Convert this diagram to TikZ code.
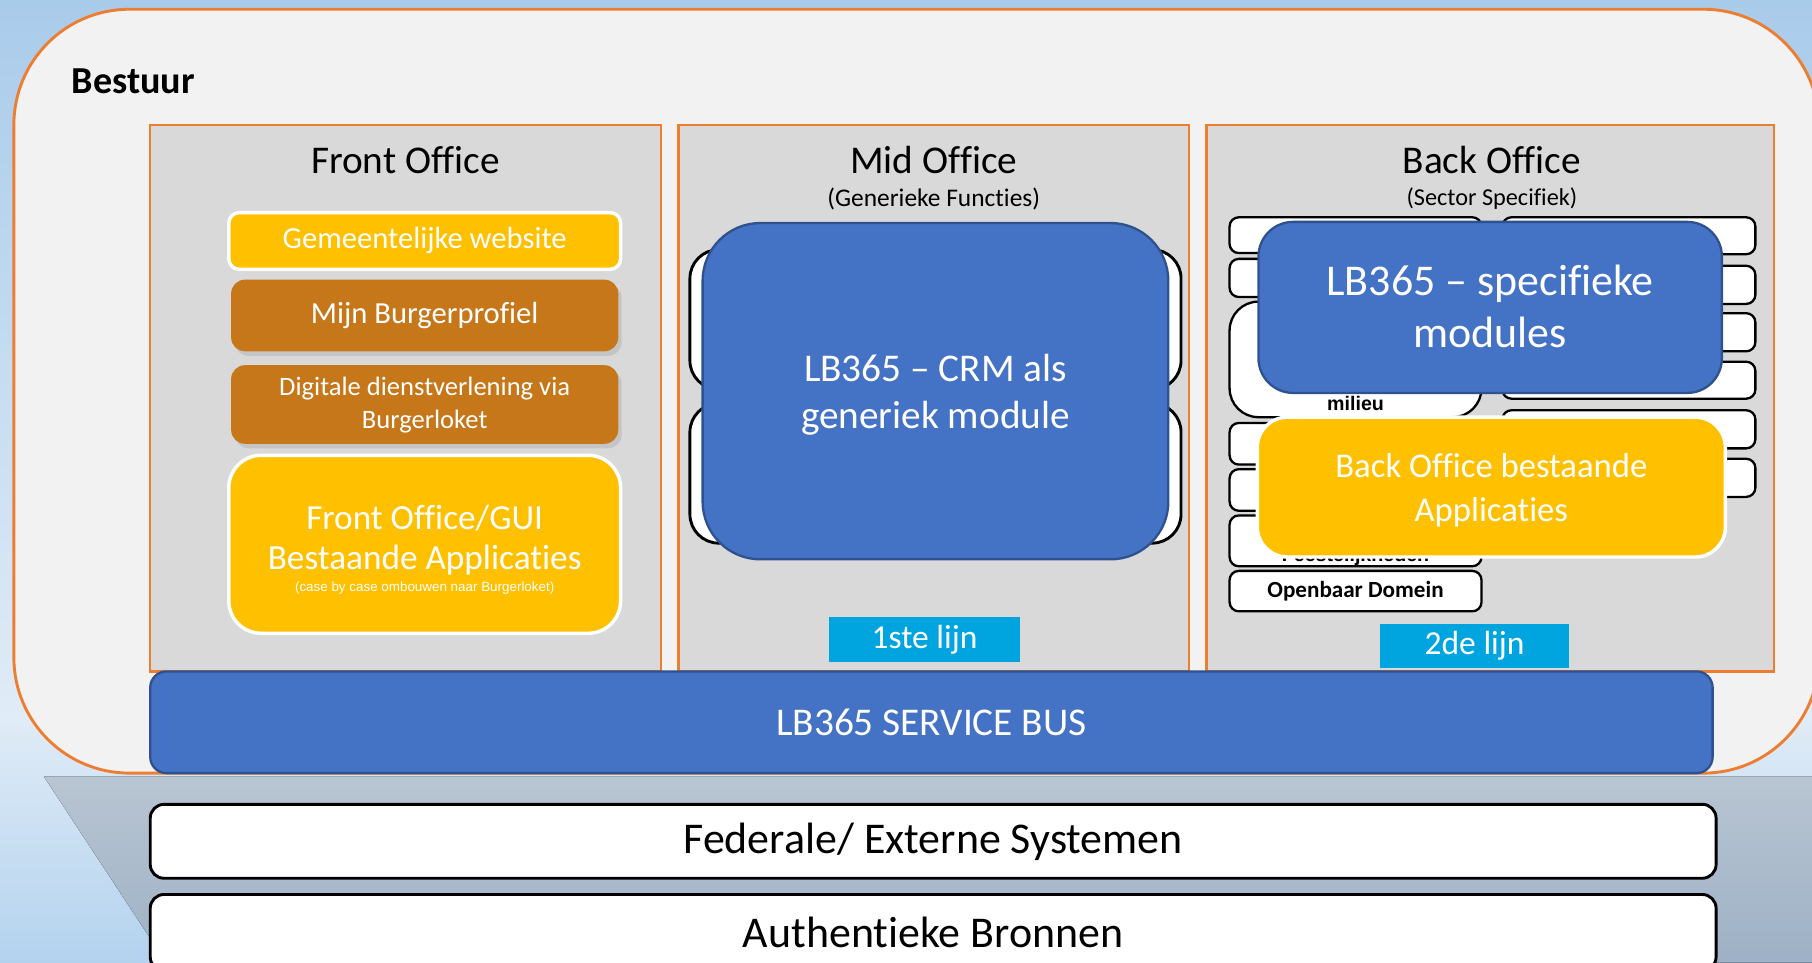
\documentclass[tikz,border=0pt]{standalone}
\usepackage{fontspec}
\setmainfont{Carlito}[Ligatures={NoCommon}]
\newfontfamily\arialf{Liberation Sans}
\usetikzlibrary{shadows}
\definecolor{obrd}{HTML}{ED7D31}
\definecolor{pan}{HTML}{D9D9D9}
\definecolor{bestuurbg}{HTML}{F2F2F2}
\definecolor{yel}{HTML}{FFC000}
\definecolor{brn}{HTML}{C5771A}
\definecolor{blu}{HTML}{4472C4}
\definecolor{blud}{HTML}{2F528F}
\definecolor{cya}{HTML}{00A5E0}
\definecolor{sky1}{HTML}{A9CBEA}
\definecolor{sky2}{HTML}{E0ECF7}
\definecolor{sky3}{HTML}{B3D2EE}
\definecolor{band1}{HTML}{B8C5D2}
\definecolor{band2}{HTML}{9EB1C6}
\newcommand\mkbox[7]{\node[#2,inner sep=0pt,minimum width={(#5-#3)*1pt},minimum height={(#6-#4)*1pt}] (#1) at ({(#3+#5)/2},{(#4+#6)/2}) {#7};}
\begin{document}
\begin{tikzpicture}[x=1pt,y=-1pt,
  panel/.style={draw=obrd,fill=pan,line width=2pt},
  ybox/.style={draw=white,fill=yel,line width=3pt,text=white},
  bbox/.style={fill=brn,rounded corners=12pt,text=white,drop shadow={shadow xshift=3pt,shadow yshift=-4pt,opacity=0.22}},
  blbox/.style={draw=blud,fill=blu,line width=2pt,text=white},
  wbox/.style={draw=black,fill=white,line width=2.5pt},
  sbox/.style={draw=black,fill=white,line width=2pt,rounded corners=8pt},
  lijn/.style={fill=cya,text=white,font=\fontsize{29}{35}\selectfont},
  wtxt/.style={text=white,anchor=base,inner sep=0pt},
  ktxt/.style={text=black,anchor=base,inner sep=0pt},
]
\useasboundingbox (0,0) rectangle (1568,833);
\clip (0,0) rectangle (1568,833);
% background
\fill[top color=sky1,bottom color=sky2] (0,0) rectangle (1568,620);
\fill[top color=sky2,bottom color=sky3] (0,620) rectangle (1568,833);
\fill[top color=band1,bottom color=band2] (38,672) -- (1568,672) -- (1568,833) -- (136,833) -- (130,812) -- cycle;
% Bestuur
\mkbox{bestuur}{draw=obrd,fill=bestuurbg,line width=2.5pt,rounded corners=100pt}{12}{8}{1574}{669}{}
\node[ktxt,anchor=base west,font=\bfseries\fontsize{33}{39}\selectfont] (bestuurlbl) at (62,81) {Bestuur};
% panels
\mkbox{fo}{panel}{130}{108}{572}{581}{}
\mkbox{mo}{panel}{587}{108}{1029}{581}{}
\mkbox{bo}{panel}{1044}{108}{1535}{581}{}
\node[ktxt,font=\fontsize{34}{40}\selectfont] (fot) at (351,150) {Front Office};
\node[ktxt,font=\fontsize{34}{40}\selectfont] (mot) at (808,150) {Mid Office};
\node[ktxt,font=\fontsize{34}{40}\selectfont] (bot) at (1291,150) {Back Office};
\node[ktxt,font=\fontsize{22}{26}\selectfont] (mos) at (808,179) {(Generieke Functies)};
\node[ktxt,font=\fontsize{21}{25}\selectfont] (bos) at (1291,178) {(Sector Specifiek)};
% front office
\mkbox{web}{ybox,rounded corners=9pt,font=\fontsize{26.5}{31}\selectfont}{198}{184}{537}{233}{Gemeentelijke website}
\mkbox{burger}{bbox,font=\fontsize{26.5}{31}\selectfont}{200}{242}{535}{304}{Mijn Burgerprofiel}
\mkbox{digi}{bbox}{200}{316}{535}{384}{}
\node[wtxt,font=\fontsize{23}{28}\selectfont] (digiA) at (367.5,342) {Digitale dienstverlening via};
\node[wtxt,font=\fontsize{23}{28}\selectfont] (digiB) at (367.5,371) {Burgerloket};
\mkbox{gui}{ybox,rounded corners=28pt}{198}{394}{537}{548}{}
\node[wtxt,font=\fontsize{30.5}{36}\selectfont] (guiA) at (367.5,458) {Front Office/GUI};
\node[wtxt,font=\fontsize{30.5}{36}\selectfont] (guiB) at (367.5,493) {Bestaande Applicaties};
\node[wtxt,font=\arialf\fontsize{11.6}{14}\selectfont] (guiC) at (367.5,512) {(case by case ombouwen naar Burgerloket)};
% mid office
\mkbox{mw1}{wbox,rounded corners=25pt}{597}{216}{1022}{337}{}
\mkbox{mw2}{wbox,rounded corners=25pt}{597}{349}{1022}{470}{}
\mkbox{crm}{blbox,rounded corners=50pt}{608}{193}{1011}{484}{}
\node[wtxt,font=\fontsize{34}{40}\selectfont] (crmA) at (809.5,330) {LB365 – CRM als};
\node[wtxt,font=\fontsize{34}{40}\selectfont] (crmB) at (809.5,370.5) {generiek module};
\mkbox{lijn1}{lijn}{717}{534}{883}{573}{1ste lijn}
% back office, left column
\mkbox{l1}{sbox}{1064}{188}{1282}{219}{}
\mkbox{l2}{sbox}{1064}{224}{1282}{257}{}
\mkbox{l3}{sbox,rounded corners=25pt}{1064}{261}{1282}{361}{}
\node[ktxt,font=\arialf\bfseries\fontsize{17}{20}\selectfont] (milieu) at (1173,355) {milieu};
\mkbox{l4}{sbox}{1064}{366}{1282}{402}{}
\mkbox{l5}{sbox}{1064}{406}{1282}{442}{}
\mkbox{l6}{sbox}{1064}{446}{1282}{490}{}
\node[ktxt,font=\arialf\bfseries\fontsize{17}{20}\selectfont] (feest) at (1173,486) {Feestelijkheden};
\mkbox{l7}{sbox,font=\bfseries\fontsize{20}{24}\selectfont}{1064}{494}{1282}{529}{Openbaar Domein}
% back office, right column
\mkbox{r1}{sbox}{1300}{188}{1519}{220}{}
\mkbox{r2}{sbox}{1300}{230}{1519}{263}{}
\mkbox{r3}{sbox}{1300}{271}{1519}{304}{}
\mkbox{r4}{sbox}{1300}{313}{1519}{345}{}
\mkbox{r5}{sbox}{1300}{355}{1519}{388}{}
\mkbox{r6}{sbox}{1300}{397}{1519}{430}{}
\mkbox{spec}{blbox,rounded corners=30pt}{1089}{192}{1490}{340}{}
\node[wtxt,font=\fontsize{38}{45}\selectfont] (specA) at (1289.5,256) {LB365 – specifieke};
\node[wtxt,font=\fontsize{38}{45}\selectfont] (specB) at (1289.5,301) {modules};
\mkbox{boa}{ybox,rounded corners=26pt}{1088}{361}{1493}{482}{}
\node[wtxt,font=\fontsize{30}{36}\selectfont] (boaA) at (1290.5,413) {Back Office bestaande};
\node[wtxt,font=\fontsize{30}{36}\selectfont] (boaB) at (1290.5,451) {Applicaties};
\mkbox{lijn2}{lijn}{1194}{540}{1358}{578}{2de lijn}
% bus and lower layers
\mkbox{bus}{blbox,rounded corners=14pt,font=\fontsize{34}{40}\selectfont}{130}{581}{1482}{669}{LB365 SERVICE BUS}
\mkbox{fed}{wbox,rounded corners=12pt,font=\fontsize{38}{46}\selectfont}{130}{696}{1485}{760}{Federale/ Externe Systemen}
\mkbox{auth}{wbox,rounded corners=12pt,font=\fontsize{38}{46}\selectfont}{130}{774}{1485}{840}{Authentieke Bronnen}
\end{tikzpicture}
\end{document}
